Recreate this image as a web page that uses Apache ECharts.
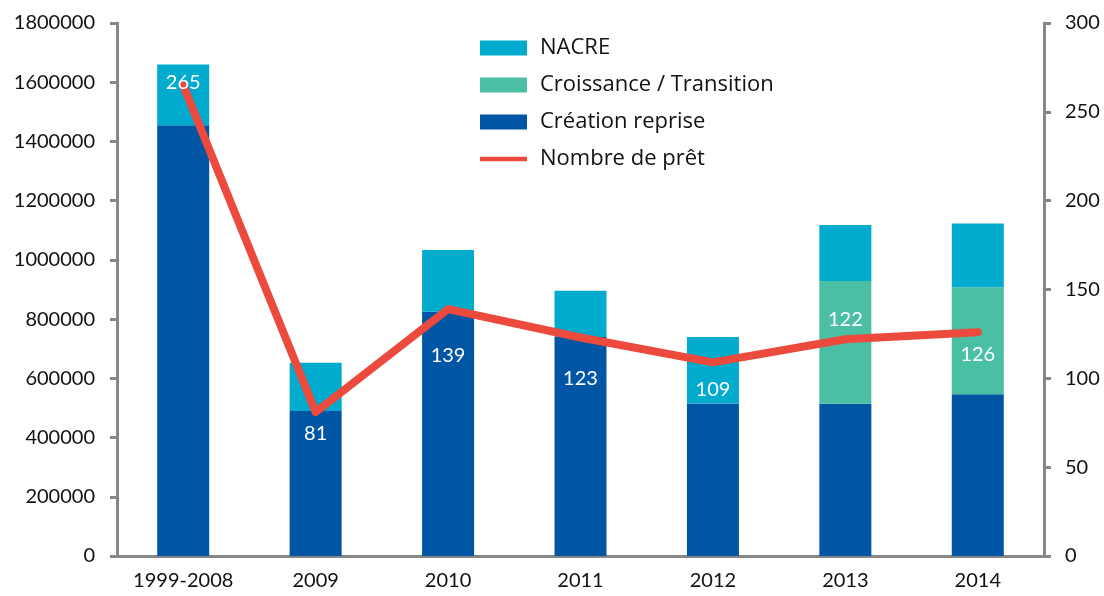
<!DOCTYPE html>
<html>
<head>
<meta charset="utf-8">
<script src="https://cdn.jsdelivr.net/npm/echarts@6/dist/echarts.min.js"></script>
<style>
  html, body { margin: 0; padding: 0; background: #fff; }
  #chart { width: 1104px; height: 596px; }
</style>
</head>
<body>
<div id="chart"></div>
<script>
  // données
  var categories = ['1999-2008', '2009', '2010', '2011', '2012', '2013', '2014']
  var creationReprise = [1455000, 490000, 825000, 740000, 515000, 514000, 546000]
  var croissance = [0, 0, 0, 0, 0, 415000, 362000]
  var nacre = [205000, 163000, 208000, 156000, 225000, 189000, 215000]
  var nombrePret = [265, 81, 139, 123, 109, 122, 126]
  var leftTicks = [0, 1800000, 200000]
  var rightTicks = [0, 300, 50]

  // décalage vertical des étiquettes (px), comme placées dans Excel
  var labelShift = [-3, 21, 47, 41, 27, -20, 22]

  var axisGray = '#878787'
  var tickFont = { fontFamily: 'Lato', fontSize: 20, color: '#111' }

  var chart = echarts.init(document.getElementById('chart'))
  chart.setOption({
    animation: false,
    grid: { left: 117, right: 60, top: 23, bottom: 40 },
    legend: {
      orient: 'vertical',
      left: 475,
      top: 32,
      itemWidth: 47,
      itemHeight: 15,
      itemGap: 15,
      textStyle: { fontFamily: 'Open Sans', fontSize: 22, color: '#111', padding: [0, 0, 0, 8] },
      data: [
        { name: 'NACRE', icon: 'rect' },
        { name: 'Croissance / Transition', icon: 'rect' },
        { name: 'Création reprise', icon: 'rect' },
        { name: 'Nombre de prêt', icon: 'path://M0,0 L10,0 L10,1 L0,1 Z', itemStyle: { color: '#ec4a3c' } }
      ]
    },
    xAxis: {
      type: 'category',
      data: categories,
      axisLine: { lineStyle: { color: axisGray, width: 3 } },
      axisTick: { length: 7, lineStyle: { color: axisGray, width: 3 } },
      axisLabel: Object.assign({ margin: 15 }, tickFont)
    },
    yAxis: [{
      type: 'value',
      min: leftTicks[0],
      max: leftTicks[1],
      interval: leftTicks[2],
      splitLine: { show: false },
      axisLine: { show: true, lineStyle: { color: axisGray, width: 3 } },
      axisTick: { show: true, length: 7, lineStyle: { color: axisGray, width: 3 } },
      axisLabel: Object.assign({ margin: 22, formatter: function (v) { return String(v) } }, tickFont)
    }, {
      type: 'value',
      min: rightTicks[0],
      max: rightTicks[1],
      interval: rightTicks[2],
      splitLine: { show: false },
      axisLine: { show: true, lineStyle: { color: axisGray, width: 3 } },
      axisTick: { show: true, length: 7, lineStyle: { color: axisGray, width: 3 } },
      axisLabel: Object.assign({ margin: 21 }, tickFont)
    }],
    series: [{
      name: 'Création reprise',
      type: 'bar',
      stack: 'total',
      barWidth: 52,
      data: creationReprise,
      itemStyle: { color: '#0055a4' }
    }, {
      name: 'Croissance / Transition',
      type: 'bar',
      stack: 'total',
      barWidth: 52,
      data: croissance,
      itemStyle: { color: '#4abfa3' }
    }, {
      name: 'NACRE',
      type: 'bar',
      stack: 'total',
      barWidth: 52,
      data: nacre,
      itemStyle: { color: '#00abcd' }
    }, {
      name: 'Nombre de prêt',
      type: 'line',
      yAxisIndex: 1,
      symbol: 'circle',
      symbolSize: 2,
      showSymbol: true,
      z: 5,
      lineStyle: { color: '#ec4a3c', width: 8, join: 'round', cap: 'round' },
      itemStyle: { color: '#ec4a3c' },
      data: nombrePret.map(function (v, i) {
        return {
          value: v,
          label: {
            show: true,
            position: 'inside',
            offset: [0, labelShift[i]],
            color: '#fff',
            fontFamily: 'Lato',
            fontSize: 20
          }
        }
      })
    }]
  })
</script>
</body>
</html>
